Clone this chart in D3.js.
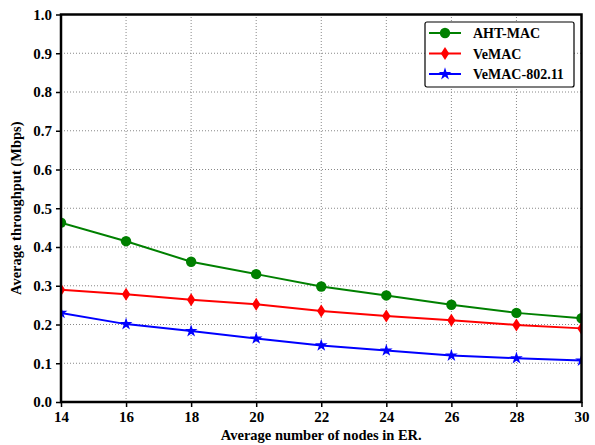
<!DOCTYPE html>
<html>
<head>
<meta charset="utf-8">
<script src="https://cdn.jsdelivr.net/npm/d3@7"></script>
<style>
body { margin: 0; background: #fff; }
text { font-family: "Liberation Serif", "Times New Roman", serif; font-weight: bold; }
</style>
</head>
<body>
<script>
// Throughput data
const nodes = [14, 16, 18, 20, 22, 24, 26, 28, 30];
const ahtMac = [0.463, 0.415, 0.362, 0.330, 0.298, 0.275, 0.251, 0.230, 0.216];
const veMac = [0.290, 0.278, 0.264, 0.252, 0.235, 0.222, 0.211, 0.199, 0.190];
const veMac80211 = [0.230, 0.201, 0.183, 0.164, 0.146, 0.133, 0.120, 0.113, 0.107];
const yTicks = [0, 0.1, 0.2, 0.3, 0.4, 0.5, 0.6, 0.7, 0.8, 0.9, 1.0];

const series = [
  {name: "AHT-MAC", values: ahtMac, color: "#008000", symbol: d3.symbolCircle, size: 85},
  {name: "VeMAC", values: veMac, color: "#ff0000", symbol: "diamond", size: 0},
  {name: "VeMAC-802.11", values: veMac80211, color: "#0000ff", symbol: d3.symbolStar, size: 50}
];

const width = 595;
const height = 445;
const margin = {top: 14.5, right: 13.5, bottom: 43, left: 61};

const svg = d3.select("body")
  .append("svg")
  .attr("width", width)
  .attr("height", height);

const x = d3.scaleLinear()
  .domain([14, 30])
  .range([margin.left, width - margin.right]);

const y = d3.scaleLinear()
  .domain([0, 1])
  .range([height - margin.bottom, margin.top]);

// clip marks to plot area
svg.append("clipPath")
  .attr("id", "plotclip")
  .append("rect")
  .attr("x", x(14)).attr("y", y(1))
  .attr("width", x(30) - x(14)).attr("height", y(0) - y(1));

// grid
svg.append("g")
  .selectAll("line.vg")
  .data(nodes.slice(1, -1))
  .enter()
  .append("line")
  .attr("x1", d => x(d)).attr("x2", d => x(d))
  .attr("y1", y(0)).attr("y2", y(1))
  .attr("stroke", "#888").attr("stroke-width", 1)
  .attr("stroke-dasharray", "1,2");

svg.append("g")
  .selectAll("line.hg")
  .data(yTicks.slice(1, -1))
  .enter()
  .append("line")
  .attr("x1", x(14)).attr("x2", x(30))
  .attr("y1", d => y(d)).attr("y2", d => y(d))
  .attr("stroke", "#888").attr("stroke-width", 1)
  .attr("stroke-dasharray", "1,2");

// axes
const xAxis = svg.append("g")
  .attr("transform", "translate(0," + y(0) + ")")
  .call(d3.axisBottom(x).tickValues(nodes).tickSize(5).tickPadding(4));

const yAxis = svg.append("g")
  .attr("transform", "translate(" + x(14) + ",0)")
  .call(d3.axisLeft(y).tickValues(yTicks).tickFormat(d3.format(".1f")).tickSize(5).tickPadding(4));

[xAxis, yAxis].forEach(g => {
  g.select(".domain").remove();
  g.selectAll(".tick line").attr("stroke", "#000").attr("stroke-width", 1.5);
  g.selectAll(".tick text").attr("font-size", "15px").attr("fill", "#000")
    .style("font-family", "'Liberation Serif', serif").style("font-weight", "bold");
});

// labels
svg.append("text")
  .attr("x", (x(14) + x(30)) / 2)
  .attr("y", 440)
  .attr("text-anchor", "middle")
  .attr("font-size", "14.5px")
  .text("Average number of nodes in ER.");

svg.append("text")
  .attr("transform", "rotate(-90)")
  .attr("x", -(y(0) + y(1)) / 2)
  .attr("y", 21)
  .attr("text-anchor", "middle")
  .attr("font-size", "14.5px")
  .text("Average throughput (Mbps)");

function markerPath(s) {
  if (s.symbol === "diamond") {
    return "M0,-6.5L4.2,0L0,6.5L-4.2,0Z";
  }
  return d3.symbol().type(s.symbol).size(s.size)();
}

const line = d3.line()
  .x((d, i) => x(nodes[i]))
  .y(d => y(d));

const plot = svg.append("g").attr("clip-path", "url(#plotclip)");

series.forEach(s => {
  plot.append("path")
    .datum(s.values)
    .attr("d", line)
    .attr("fill", "none")
    .attr("stroke", s.color)
    .attr("stroke-width", 2);

  plot.append("g")
    .selectAll("path")
    .data(s.values)
    .enter()
    .append("path")
    .attr("transform", (d, i) => "translate(" + x(nodes[i]) + "," + y(d) + ")")
    .attr("d", markerPath(s))
    .attr("fill", s.color);
});

// frame
svg.append("rect")
  .attr("x", x(14)).attr("y", y(1))
  .attr("width", x(30) - x(14)).attr("height", y(0) - y(1))
  .attr("fill", "none").attr("stroke", "#000").attr("stroke-width", 2.5);

// legend
const legend = svg.append("g")
  .attr("transform", "translate(425,22)");

legend.append("rect")
  .attr("width", 149).attr("height", 65)
  .attr("rx", 2)
  .attr("fill", "#fff").attr("stroke", "#000").attr("stroke-width", 1.2);

series.forEach((s, i) => {
  const ly = 11 + i * 20.5;
  legend.append("line")
    .attr("x1", 4).attr("x2", 36)
    .attr("y1", ly).attr("y2", ly)
    .attr("stroke", s.color).attr("stroke-width", 2);
  legend.append("path")
    .attr("transform", "translate(20," + ly + ")")
    .attr("d", markerPath(s))
    .attr("fill", s.color);
  legend.append("text")
    .attr("x", 48).attr("y", ly + 5)
    .attr("font-size", "14px")
    .text(s.name);
});
</script>
</body>
</html>
